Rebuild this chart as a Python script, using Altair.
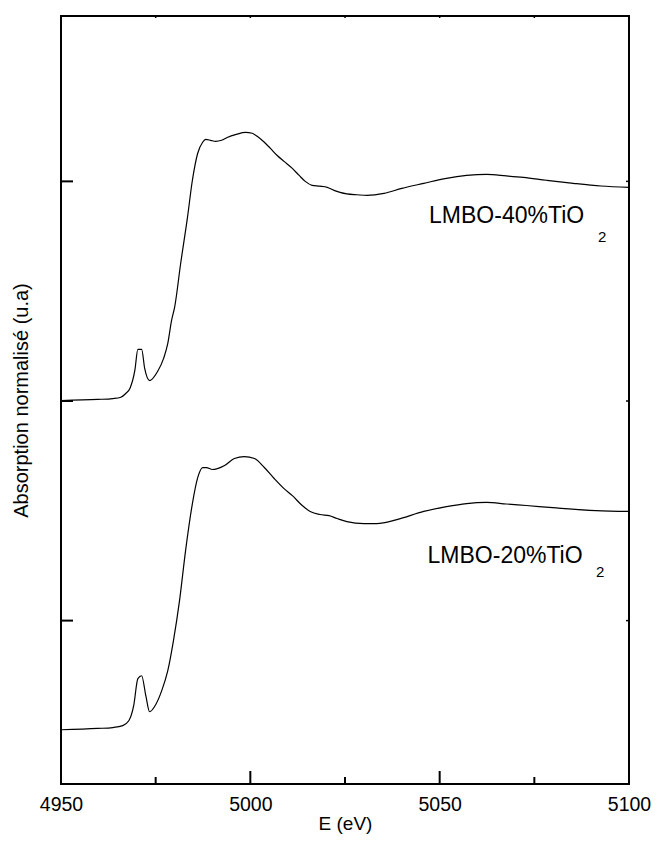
import altair as alt
import pandas as pd

# ---- data ----
energy_40 = [4950.0, 4959.7, 4963.7, 4965.8, 4967.1, 4968.2, 4969.5, 4970.3, 4971.3, 4972.1,
             4973.4, 4975.5, 4977.1, 4978.2, 4979.2, 4980.0, 4981.6, 4983.4, 4984.7, 4986.1,
             4987.4, 4988.2, 4989.5, 4990.8, 4992.4, 4993.9, 4996.3, 4998.7, 5000.5, 5001.8,
             5003.7, 5005.3, 5007.1, 5008.9, 5011.1, 5012.9, 5014.5, 5016.3, 5018.2, 5020.3,
             5022.1, 5023.7, 5025.5, 5028.2, 5030.8, 5035.3, 5040.0, 5045.8, 5051.8, 5057.1,
             5062.4, 5067.6, 5072.1, 5078.2, 5085.3, 5092.6, 5100.0]
absorb_40 = [2.002, 2.007, 2.011, 2.017, 2.034, 2.057, 2.139, 2.235, 2.235, 2.148,
             2.093, 2.134, 2.194, 2.262, 2.367, 2.426, 2.626, 2.836, 3.005, 3.128,
             3.178, 3.191, 3.187, 3.182, 3.187, 3.200, 3.214, 3.223, 3.219, 3.205,
             3.178, 3.150, 3.118, 3.091, 3.059, 3.027, 3.000, 2.982, 2.978, 2.973,
             2.959, 2.950, 2.943, 2.939, 2.936, 2.945, 2.968, 2.991, 3.014, 3.027,
             3.032, 3.025, 3.018, 3.005, 2.991, 2.979, 2.973]

energy_20 = [4950.0, 4959.7, 4963.7, 4966.3, 4967.9, 4969.2, 4970.3, 4971.3, 4972.4, 4973.4,
             4975.0, 4976.6, 4978.2, 4979.7, 4981.3, 4982.9, 4984.7, 4986.1, 4987.4, 4988.4,
             4990.0, 4991.3, 4993.2, 4995.8, 4998.4, 5001.1, 5003.7, 5006.3, 5008.9, 5011.1,
             5013.7, 5015.8, 5018.4, 5020.8, 5022.9, 5025.5, 5030.0, 5033.4, 5038.7, 5045.8,
             5051.8, 5057.1, 5062.4, 5067.6, 5072.9, 5080.8, 5091.3, 5100.0]
absorb_20 = [0.503, 0.509, 0.513, 0.522, 0.544, 0.613, 0.736, 0.749, 0.658, 0.585,
             0.617, 0.681, 0.772, 0.909, 1.091, 1.319, 1.533, 1.651, 1.697, 1.697,
             1.688, 1.692, 1.706, 1.738, 1.747, 1.738, 1.697, 1.647, 1.601, 1.569,
             1.524, 1.497, 1.483, 1.478, 1.465, 1.451, 1.442, 1.442, 1.460, 1.497,
             1.519, 1.533, 1.538, 1.531, 1.524, 1.513, 1.501, 1.497]

x_labels = [4950, 5000, 5050, 5100]
x_major_ticks = [4950, 5000, 5050, 5100]
x_minor_ticks = [4975, 5025, 5075]
y_ticks = [1, 2, 3]

label_text = ["LMBO-40%TiO", "LMBO-20%TiO"]
label_x = [5047.2, 5046.8]
label_y = [2.81, 1.264]
sub_text = ["2", "2"]
sub_x = [5091.8, 5091.3]
sub_y = [2.722, 1.20]

X_DOMAIN = [4950, 5100]
Y_DOMAIN = [0.256, 3.753]
FONT = "Liberation Sans"

# ---- tables ----
curves = pd.concat([
    pd.DataFrame({"E": energy_40, "A": absorb_40, "s": "40"}),
    pd.DataFrame({"E": energy_20, "A": absorb_20, "s": "20"}),
])
major_df = pd.DataFrame({"E": x_major_ticks})
minor_df = pd.DataFrame({"E": x_minor_ticks})
alltick_df = pd.DataFrame({"E": x_major_ticks + x_minor_ticks})
ytick_df = pd.DataFrame({"A": y_ticks})
labels_df = pd.DataFrame({"E": label_x, "A": label_y, "t": label_text})
subs_df = pd.DataFrame({"E": sub_x, "A": sub_y, "t": sub_text})

xscale = alt.Scale(domain=X_DOMAIN, nice=False, zero=False)
yscale = alt.Scale(domain=Y_DOMAIN, nice=False, zero=False)

W, H = 568, 768

xaxis = alt.Axis(values=x_labels, format="d", tickSize=0, domain=False, grid=False,
                 labelFlush=False, labelBound=False,
                 labelFont=FONT, labelFontSize=19.5, labelPadding=11, labelColor="black",
                 title="E (eV)", titleFont=FONT, titleFontSize=19, titleFontWeight="normal",
                 titleColor="black", titlePadding=1)
yaxis = alt.Axis(labels=False, ticks=False, domain=False, grid=False,
                 title="Absorption normalisé (u.a)", titleFont=FONT, titleFontSize=20,
                 titleFontWeight="normal", titleColor="black", titlePadding=30)

lines = alt.Chart(curves).mark_line(color="black", strokeWidth=1.2, interpolate="monotone").encode(
    x=alt.X("E:Q", scale=xscale, axis=xaxis),
    y=alt.Y("A:Q", scale=yscale, axis=yaxis),
    detail="s:N",
)

bottom_major = alt.Chart(major_df).mark_rule(color="black", strokeWidth=2).encode(
    x=alt.X("E:Q", scale=xscale), y=alt.value(H), y2=alt.value(H - 13))
bottom_minor = alt.Chart(minor_df).mark_rule(color="black", strokeWidth=2).encode(
    x=alt.X("E:Q", scale=xscale), y=alt.value(H), y2=alt.value(H - 7))
top_ticks = alt.Chart(alltick_df).mark_rule(color="black", strokeWidth=1.5).encode(
    x=alt.X("E:Q", scale=xscale), y=alt.value(0), y2=alt.value(2))
left_ticks = alt.Chart(ytick_df).mark_rule(color="black", strokeWidth=2).encode(
    y=alt.Y("A:Q", scale=yscale), x=alt.value(0), x2=alt.value(12))
right_ticks = alt.Chart(ytick_df).mark_rule(color="black", strokeWidth=1.5).encode(
    y=alt.Y("A:Q", scale=yscale), x=alt.value(W), x2=alt.value(W - 3))

labels = alt.Chart(labels_df).mark_text(font=FONT, fontSize=23, align="left",
                                        baseline="alphabetic", color="black").encode(
    x=alt.X("E:Q", scale=xscale), y=alt.Y("A:Q", scale=yscale), text="t:N")
subs = alt.Chart(subs_df).mark_text(font=FONT, fontSize=15, align="left",
                                    baseline="alphabetic", color="black").encode(
    x=alt.X("E:Q", scale=xscale), y=alt.Y("A:Q", scale=yscale), text="t:N")

chart = alt.layer(lines, bottom_major, bottom_minor, top_ticks, left_ticks, right_ticks,
                  labels, subs).properties(
    width=W, height=H,
    padding={"left": 53, "top": 8, "right": 23, "bottom": 50},
    autosize=alt.AutoSizeParams(type="none"),
    background="white",
).configure_view(stroke="black", strokeWidth=2)

chart.save("out.html", embed_options={"renderer": "svg", "actions": False})
